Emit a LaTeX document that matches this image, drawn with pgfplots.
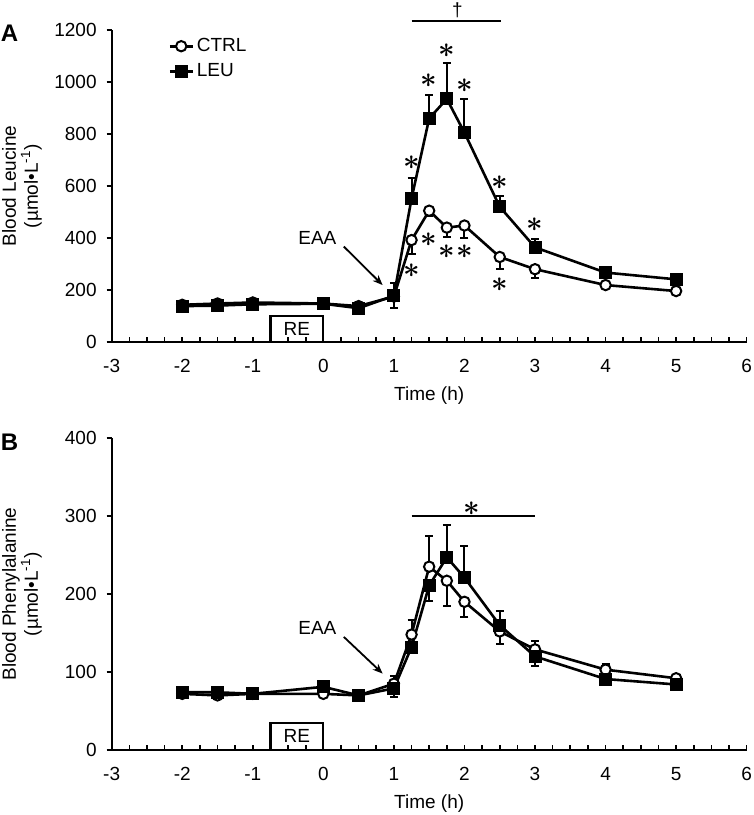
\documentclass[border=0pt]{standalone}
\usepackage{amsmath}
\usepackage{fontspec}
\setmainfont{Liberation Sans}
\usepackage{pgfplots}
\usepackage{pgfplotstable}
\pgfplotsset{compat=1.18}
\usetikzlibrary{arrows.meta}

\pgfplotstableread{
x y ep em
-2 143 0 5
-1.5 148 0 5
-1 152 0 5
0 148 0 5
0.5 138 0 5
1 175 0 45
1.25 392 0 55
1.5 505 0 22
1.75 440 0 35
2 448 0 48
2.5 327 0 45
3 280 0 35
4 219 0 10
5 196 0 6
}\ctrlA
\pgfplotstableread{
x y ep em
-2 138 5 0
-1.5 140 5 0
-1 145 5 0
0 147 5 0
0.5 130 5 0
1 178 50 0
1.25 552 80 0
1.5 860 90 0
1.75 935 138 0
2 805 128 0
2.5 520 40 0
3 364 33 0
4 267 8 0
5 241 5 0
}\leuA
\pgfplotstableread{
x y ep em
-2 72 0 2
-1.5 70 0 2
-1 72 0 2
0 72 0 2
0.5 70 0 2
1 85 10 0
1.25 148 19 0
1.5 235 40 0
1.75 217 0 33
2 190 0 19
2.5 152 0 16
3 129 11 0
4 103 7 0
5 92 4 0
}\ctrlB
\pgfplotstableread{
x y ep em
-2 74 2 0
-1.5 74 2 0
-1 72 2 0
0 81 2 0
0.5 70 2 0
1 79 0 11
1.25 132 0 5
1.5 211 0 20
1.75 247 41 0
2 221 40 0
2.5 160 18 0
3 120 0 12
4 91 0 5
5 84 0 3
}\leuB

\pgfplotsset{
  panel/.style={
    width=317.5pt, height=156pt, scale only axis,
    axis lines*=left,
    xmin=-3, xmax=6, xtick={-3,...,6}, minor x tick num=3,
    tick align=inside,
    major tick length=2.5pt, minor tick length=2.5pt,
    ytick style={xshift=-2.5pt},
    tick style={line width=0.8pt, black},
    axis line style={line width=1.1pt},
    tick label style={font=\fontsize{9.5}{11}\selectfont},
    yticklabel style={xshift=-4pt},
    xticklabel style={yshift=-5pt},
    /pgf/number format/assume math mode=true,
    /pgf/number format/1000 sep={},
    xlabel={Time (h)},
    xlabel style={at={(axis description cs:0.5,0)}, anchor=north, yshift=-19pt, font=\fontsize{9.5}{11}\selectfont},
    ylabel style={at={(axis description cs:-0.099,0.5)}, anchor=south, align=center, font=\fontsize{9.5}{11}\selectfont},
    clip=false,
    error bars/y dir=both, error bars/y explicit,
    error bars/error bar style={line width=1pt, black},
    error bars/error mark options={rotate=90, mark size=2pt, line width=1pt, black},
    legend image code/.code={\draw[mark repeat=2,mark phase=2,#1] plot coordinates {(0cm,0cm)(0.2cm,0cm)(0.4cm,0cm)};},
  },
  ctrl/.style={black, line width=1.3pt, mark=*, mark size=2.6pt, mark options={fill=white, draw=black, line width=1pt}},
  leu/.style={black, line width=1.3pt, mark=square*, mark size=2.6pt, mark options={fill=black, draw=black}},
}
\newcommand{\sig}{\fontsize{15}{15}\selectfont$\boldsymbol{\ast}$}

\begin{document}
\begin{tikzpicture}
\useasboundingbox (-55.85pt,-236.5pt) rectangle (321.15pt,171pt);
\begin{axis}[panel, at={(0pt,0pt)}, anchor=south west,
  ymin=0, ymax=1200, ytick={0,200,...,1200},
  ylabel={Blood Leucine\\(µmol•L\textsuperscript{-1})},
  legend style={at={(axis cs:-2.2,1182)}, anchor=north west, draw=none, fill=none,
    font=\fontsize{9.5}{11}\selectfont, row sep=1.5pt, inner sep=0pt,
    nodes={inner sep=1.5pt}, legend cell align=left}]
\addplot[ctrl] table[x=x, y=y, y error plus=ep, y error minus=em]{\ctrlA};
\addlegendentry{CTRL}
\addplot[leu] table[x=x, y=y, y error plus=ep, y error minus=em]{\leuA};
\addlegendentry{LEU}
\node[font=\fontsize{12}{14}\selectfont\bfseries] at (axis description cs:-0.161,0.99) {A};
\draw[line width=1.1pt] (axis cs:-0.75,0) rectangle (axis cs:0,100);
\node[font=\fontsize{9.5}{11}\selectfont] at (axis cs:-0.375,50) {RE};
\node[font=\fontsize{9.5}{11}\selectfont] at (axis cs:-0.085,399) {EAA};
\draw[line width=0.9pt, -{Stealth[length=5pt,width=4pt]}] (axis cs:0.29,367) -- (axis cs:0.84,219);
\draw[line width=0.6pt] (axis cs:1.25,1235) -- (axis cs:2.52,1235);
\node[font=\fontsize{9.5}{11}\selectfont] at (axis cs:1.9,1275) {†};
\node at (axis cs:1.25,688) {\sig};
\node at (axis cs:1.5,1004) {\sig};
\node at (axis cs:1.75,1119) {\sig};
\node at (axis cs:2,985) {\sig};
\node at (axis cs:2.5,613) {\sig};
\node at (axis cs:3,453) {\sig};
\node at (axis cs:1.25,274) {\sig};
\node at (axis cs:1.5,392) {\sig};
\node at (axis cs:1.75,347) {\sig};
\node at (axis cs:2,347) {\sig};
\node at (axis cs:2.5,219) {\sig};
\end{axis}

\begin{axis}[panel, at={(0pt,-204pt)}, anchor=south west,
  ymin=0, ymax=400, ytick={0,100,...,400},
  ylabel={Blood Phenylalanine\\(µmol•L\textsuperscript{-1})}]
\addplot[ctrl] table[x=x, y=y, y error plus=ep, y error minus=em]{\ctrlB};
\addplot[leu] table[x=x, y=y, y error plus=ep, y error minus=em]{\leuB};
\node[font=\fontsize{12}{14}\selectfont\bfseries] at (axis description cs:-0.161,0.985) {B};
\draw[line width=1.1pt] (axis cs:-0.75,0) rectangle (axis cs:0,35);
\node[font=\fontsize{9.5}{11}\selectfont] at (axis cs:-0.375,17.5) {RE};
\node[font=\fontsize{9.5}{11}\selectfont] at (axis cs:-0.085,156) {EAA};
\draw[line width=0.9pt, -{Stealth[length=5pt,width=4pt]}] (axis cs:0.29,145) -- (axis cs:0.84,98);
\draw[line width=0.6pt] (axis cs:1.25,300) -- (axis cs:3,300);
\node at (axis cs:2.11,310) {\sig};
\end{axis}
\end{tikzpicture}
\end{document}
